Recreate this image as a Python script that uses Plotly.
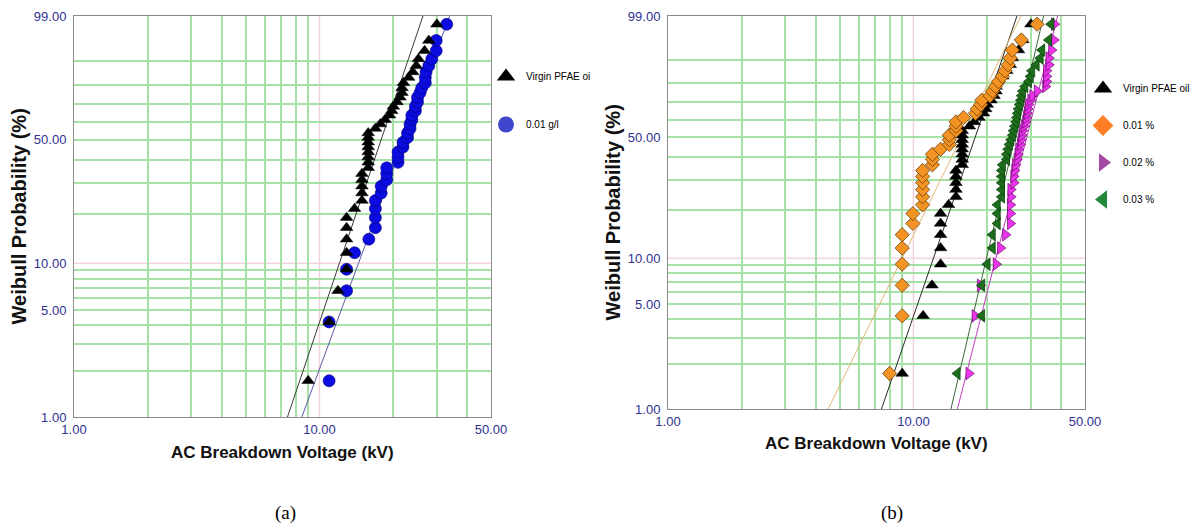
import numpy as np
import plotly.graph_objects as go

# ---------------- data (AC breakdown voltages, kV, sorted) ----------------
virgin_kv = [9.0, 10.95, 11.9, 12.9, 12.9, 12.9, 12.9, 12.9, 13.9, 14.9,
             14.9, 14.9, 14.9, 14.9, 15.8, 15.8, 15.8, 15.8, 15.8, 15.8,
             15.8, 15.8, 16.9, 17.7, 18.5, 19.3, 19.7, 20.0, 20.7, 21.3,
             21.7, 21.7, 22.0, 23.1, 24.0, 24.8, 25.3, 26.8, 27.9, 30.1]
g001_kv = [10.95, 10.95, 12.9, 12.9, 13.9, 15.9, 16.9, 16.9, 16.9, 16.9,
           17.85, 17.85, 18.8, 18.8, 18.8, 20.9, 20.9, 20.9, 21.9, 21.9,
           22.85, 22.85, 23.4, 23.4, 23.8, 23.8, 24.6, 24.6, 25.1, 25.1,
           25.7, 26.1, 27.0, 27.0, 27.2, 27.9, 28.7, 29.9, 29.9, 33.0]
pct001_kv = [8.0, 9.0, 9.0, 9.0, 9.0, 9.0, 9.95, 9.95, 10.9, 10.9,
             10.9, 10.9, 10.9, 10.9, 11.95, 11.95, 11.95, 12.9, 14.0, 14.0,
             14.0, 14.9, 14.9, 14.9, 16.0, 17.9, 18.2, 18.8, 19.0, 20.5,
             21.0, 21.6, 22.2, 23.0, 23.6, 24.3, 24.8, 25.3, 27.5, 31.9]
pct002_kv = [16.8, 17.8, 18.7, 21.7, 22.6, 23.7, 24.8, 24.8, 24.8, 24.9,
             24.9, 25.6, 25.6, 25.8, 26.0, 26.4, 26.6, 26.8, 27.2, 27.4,
             27.6, 27.8, 28.2, 28.6, 28.8, 29.0, 29.2, 29.4, 30.0, 30.6,
             31.9, 34.5, 34.8, 34.8, 34.8, 35.6, 35.6, 36.5, 37.3, 37.5]
pct003_kv = [15.1, 19.0, 19.0, 20.0, 21.0, 21.0, 22.0, 22.0, 22.0, 22.9,
             22.9, 22.9, 22.9, 22.9, 23.1, 24.0, 24.0, 24.3, 24.6, 25.0,
             25.4, 25.6, 25.9, 26.2, 26.4, 26.6, 26.8, 27.1, 27.4, 27.6,
             27.9, 28.5, 29.5, 30.0, 30.4, 31.7, 32.9, 33.4, 35.6, 36.4]

# Weibull fit lines (shape beta, scale eta in kV)
fit_virgin = (4.82, 19.24)
fit_g001 = (4.42, 24.0)
fit_pct001 = (3.39, 17.46)
fit_pct002 = (6.52, 30.6)
fit_pct003 = (7.05, 27.3)

legend_a = ["Virgin PFAE oi", "0.01 g/l"]
legend_b = ["Virgin PFAE oil", "0.01 %", "0.02 %", "0.03 %"]

y_tick_pct = [1, 5, 10, 50, 99]
y_tick_text = ["1.00", "5.00", "10.00", "50.00", "99.00"]
y_grid_pct = [2, 3, 4, 5, 6, 7, 8, 9, 20, 30, 40, 50, 60, 70, 80, 90]
x_tick_vals = [1, 10, 50]
x_tick_text = ["1.00", "10.00", "50.00"]
x_grid_vals = [2, 3, 4, 5, 6, 7, 8, 9, 20, 30, 40]


def weib(p):
    p = np.asarray(p, dtype=float)
    return np.log(-np.log(1.0 - p))


def median_rank_y(values):
    n = len(values)
    i = np.arange(1, n + 1)
    return weib((i - 0.3) / (n + 0.4))


def fit_line(params):
    beta, eta = params
    w = np.array([weib(0.005), weib(0.9995)])
    return eta * np.exp(w / beta), w


W_LO, W_HI = float(weib(0.01)), float(weib(0.99))

TICK_FONT = dict(family="Liberation Sans, Arial, sans-serif", size=13, color="#2e3192")
GRID_GREEN = "#a6e1a6"
PINK = "#f5d3dd"

fig = go.Figure()


def add_line(params, color, xa, ya):
    lx, ly = fit_line(params)
    fig.add_trace(go.Scatter(x=lx, y=ly, mode="lines", line=dict(color=color, width=1),
                             xaxis=xa, yaxis=ya, showlegend=False, hoverinfo="skip"))


def add_pts(vals, symbol, size, fill, edge, ew, xa, ya):
    fig.add_trace(go.Scatter(x=vals, y=median_rank_y(vals), mode="markers",
                             marker=dict(symbol=symbol, size=size, color=fill,
                                         line=dict(color=edge, width=ew)),
                             xaxis=xa, yaxis=ya, showlegend=False, cliponaxis=False))


def add_legend_item(name, symbol, size, color, legend, group):
    fig.add_trace(go.Scatter(x=[None], y=[None], mode="markers", name=name,
                             marker=dict(symbol=symbol, size=size, color=color),
                             legend=legend, legendgroup=group, showlegend=True))


# ---- panel (a)
add_line(fit_virgin, "#3a3a3a", "x", "y")
add_line(fit_g001, "#5a5aa8", "x", "y")
add_pts(g001_kv, "circle", 12, "#0c0ce0", "#00007a", 0.6, "x", "y")
add_pts(virgin_kv, "triangle-up", 11, "#000000", "#000000", 0.5, "x", "y")

# ---- panel (b)
add_line(fit_virgin, "#2a2a2a", "x2", "y2")
add_line(fit_pct001, "#e4b676", "x2", "y2")
add_line(fit_pct003, "#3c6a3c", "x2", "y2")
add_line(fit_pct002, "#c43cc4", "x2", "y2")
add_pts(virgin_kv, "triangle-up", 11, "#000000", "#000000", 0.5, "x2", "y2")
add_pts(pct001_kv, "diamond", 11, "#f39323", "#5a3300", 0.7, "x2", "y2")
add_pts(pct002_kv, "triangle-right", 11, "#ec34ec", "#6a0a6a", 0.7, "x2", "y2")
add_pts(pct003_kv, "triangle-left", 11, "#1c6e1c", "#0a3a0a", 0.7, "x2", "y2")

# ---- legends
add_legend_item(legend_a[0], "triangle-up", 16, "#000000", "legend", "a1")
add_legend_item(legend_a[1], "circle", 16, "#3f48cc", "legend", "a2")
add_legend_item(legend_b[0], "triangle-up", 16, "#000000", "legend2", "b1")
add_legend_item(legend_b[1], "diamond", 16, "#ff7f27", "legend2", "b2")
add_legend_item(legend_b[2], "triangle-right", 16, "#a349a4", "legend2", "b3")
add_legend_item(legend_b[3], "triangle-left", 16, "#22883a", "legend2", "b4")

W, H = 1200, 527


def xaxis_cfg(x0, x1):
    return dict(type="log", domain=[x0 / W, x1 / W], range=[0, np.log10(50)],
                tickmode="array", tickvals=x_tick_vals, ticktext=x_tick_text,
                tickfont=TICK_FONT, ticks="", showgrid=False, zeroline=False,
                showline=True, mirror=True, linecolor="#8a8a8a", linewidth=1,
                automargin=False,
                minor=dict(tickmode="array", tickvals=x_grid_vals, showgrid=True,
                           gridcolor=GRID_GREEN, gridwidth=1.5, ticks=""))


def yaxis_cfg(y0, y1, anchor):
    return dict(domain=[1 - y1 / H, 1 - y0 / H], range=[W_LO, W_HI], anchor=anchor,
                tickmode="array", tickvals=weib(np.array(y_tick_pct) / 100.0).tolist(),
                ticktext=y_tick_text, tickfont=TICK_FONT, ticks="", showgrid=False,
                zeroline=False, showline=True, mirror=True, linecolor="#8a8a8a", linewidth=1,
                automargin=False, ticklabelstandoff=4,
                minor=dict(tickmode="array",
                           tickvals=weib(np.array(y_grid_pct) / 100.0).tolist(),
                           showgrid=True, gridcolor=GRID_GREEN, gridwidth=1.5, ticks=""))


xa = xaxis_cfg(74, 491); xa["anchor"] = "y"
xb = xaxis_cfg(668, 1085); xb["anchor"] = "y2"

shapes = []
for xr, yr in (("x", "y"), ("x2", "y2")):
    shapes.append(dict(type="line", xref=xr, yref=yr + " domain", x0=10, x1=10, y0=0, y1=1,
                       line=dict(color=PINK, width=1.5), layer="below"))
    shapes.append(dict(type="line", xref=xr + " domain", yref=yr, x0=0, x1=1,
                       y0=float(weib(0.10)), y1=float(weib(0.10)),
                       line=dict(color=PINK, width=1.5), layer="below"))

TITLE_FONT = dict(family="Liberation Sans, Arial, sans-serif", color="#111111")
ann = []
for cx, cy in ((282.5, 452), (876.5, 443)):
    ann.append(dict(text="<b>AC Breakdown Voltage (kV)</b>", x=cx / W, y=1 - cy / H,
                    xref="paper", yref="paper", showarrow=False, xanchor="center",
                    yanchor="middle", font=dict(size=17, **TITLE_FONT)))
for cx, cy in ((18, 216.5), (612, 212.5)):
    ann.append(dict(text="<b>Weibull Probability (%)</b>", x=cx / W, y=1 - cy / H,
                    xref="paper", yref="paper", showarrow=False, xanchor="center",
                    yanchor="middle", textangle=-90, font=dict(size=20, **TITLE_FONT)))
for txt, cx in (("(a)", 285), ("(b)", 892)):
    ann.append(dict(text=txt, x=cx / W, y=1 - 513 / H, xref="paper", yref="paper",
                    showarrow=False, xanchor="center", yanchor="middle",
                    font=dict(family="Liberation Serif, Times New Roman, serif",
                              size=19, color="#000000")))

LEG_FONT = dict(family="Liberation Sans, Arial, sans-serif", size=10, color="#000000")
fig.update_layout(
    width=W, height=H, margin=dict(l=0, r=0, t=0, b=0, autoexpand=False),
    paper_bgcolor="white", plot_bgcolor="white",
    xaxis=xa, yaxis=yaxis_cfg(16, 417, "x"),
    xaxis2=xb, yaxis2=yaxis_cfg(16, 409, "x2"),
    shapes=shapes, annotations=ann,
    legend=dict(x=486 / W, y=1 - 62 / H, xanchor="left", yanchor="top",
                bgcolor="rgba(0,0,0,0)", font=LEG_FONT, itemsizing="trace",
                tracegroupgap=29),
    legend2=dict(x=1083 / W, y=1 - 74 / H, xanchor="left", yanchor="top",
                 bgcolor="rgba(0,0,0,0)", font=LEG_FONT, itemsizing="trace",
                 tracegroupgap=18),
    showlegend=True,
)

fig.write_html("out.html", config={"displayModeBar": False},
               post_script="document.body.style.margin='0px';")
